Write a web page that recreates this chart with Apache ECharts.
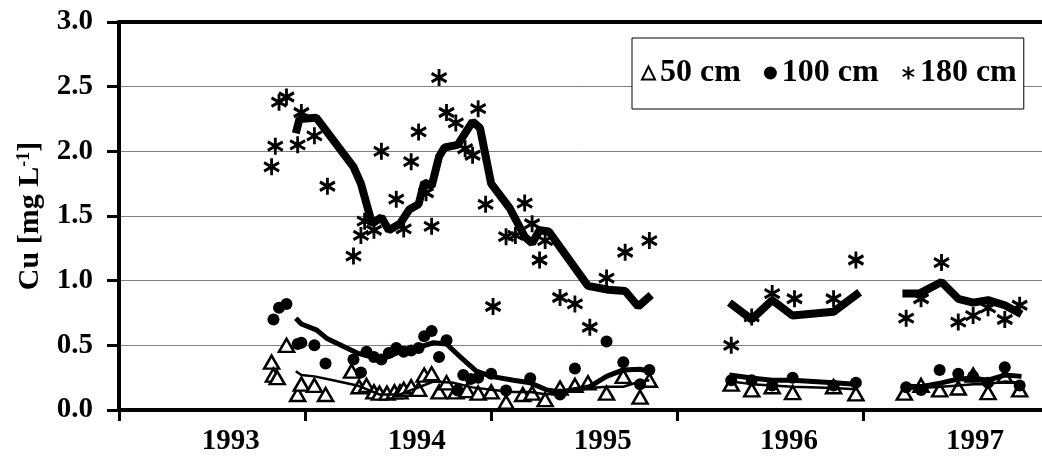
<!DOCTYPE html>
<html><head><meta charset="utf-8">
<script src="https://cdn.jsdelivr.net/npm/echarts@6/dist/echarts.min.js"></script>
<style>html,body{margin:0;padding:0;background:#fff}#c{width:1042px;height:460px}</style>
</head><body><div id="c"></div>
<script>
const FONT = '"Liberation Serif","Times New Roman",serif';
const yearTicks = [1993, 1994, 1995, 1996, 1997];
const yearLabelPos = [1993.6, 1994.6, 1995.6, 1996.6, 1997.6];

// 50 cm (triangles)
const t50 = [1993.82,1993.83,1993.85,1993.90,1993.96,1993.98,1994.05,1994.11,1994.25,1994.29,1994.33,1994.37,1994.40,1994.44,1994.48,1994.51,1994.53,1994.57,1994.61,1994.64,1994.68,1994.72,1994.76,1994.81,1994.87,1994.93,1995.00,1995.08,1995.17,1995.22,1995.29,1995.37,1995.45,1995.52,1995.62,1995.71,1995.80,1995.85,1996.29,1996.40,1996.51,1996.62,1996.84,1996.96,1997.22,1997.31,1997.41,1997.51,1997.59,1997.67,1997.76,1997.84];
const v50 = [0.37,0.27,0.25,0.50,0.12,0.20,0.19,0.12,0.30,0.18,0.19,0.14,0.13,0.13,0.14,0.14,0.16,0.18,0.16,0.27,0.28,0.14,0.21,0.14,0.15,0.13,0.14,0.06,0.12,0.13,0.08,0.17,0.19,0.21,0.13,0.26,0.10,0.23,0.20,0.155,0.18,0.135,0.18,0.125,0.13,0.19,0.155,0.17,0.27,0.135,0.26,0.155];

// 100 cm (dots)
const t100 = [1993.83,1993.86,1993.90,1993.96,1993.98,1994.05,1994.11,1994.26,1994.30,1994.33,1994.37,1994.41,1994.45,1994.49,1994.53,1994.57,1994.61,1994.64,1994.68,1994.72,1994.76,1994.82,1994.85,1994.89,1994.93,1995.00,1995.08,1995.21,1995.37,1995.45,1995.62,1995.71,1995.80,1995.85,1996.29,1996.40,1996.51,1996.62,1996.84,1996.96,1997.23,1997.31,1997.41,1997.51,1997.59,1997.67,1997.76,1997.84];
const v100 = [0.70,0.79,0.82,0.51,0.52,0.50,0.36,0.39,0.29,0.45,0.41,0.39,0.44,0.48,0.45,0.46,0.48,0.57,0.61,0.41,0.54,0.15,0.27,0.24,0.25,0.28,0.15,0.245,0.12,0.32,0.53,0.37,0.20,0.31,0.23,0.23,0.19,0.25,0.19,0.21,0.175,0.155,0.31,0.28,0.26,0.21,0.33,0.19];

// 180 cm (stars)
const t180 = [1993.82,1993.84,1993.86,1993.90,1993.96,1993.98,1994.05,1994.12,1994.26,1994.30,1994.32,1994.37,1994.41,1994.49,1994.53,1994.57,1994.61,1994.65,1994.68,1994.72,1994.76,1994.81,1994.86,1994.90,1994.93,1994.97,1995.01,1995.08,1995.13,1995.18,1995.22,1995.26,1995.29,1995.37,1995.45,1995.53,1995.62,1995.72,1995.85,1996.29,1996.40,1996.51,1996.63,1996.84,1996.96,1997.23,1997.31,1997.42,1997.51,1997.59,1997.67,1997.76,1997.84];
const v180 = [1.88,2.04,2.38,2.42,2.05,2.30,2.12,1.73,1.19,1.35,1.46,1.39,2.00,1.63,1.40,1.92,2.15,1.68,1.42,2.57,2.30,2.22,2.02,1.97,2.33,1.59,0.80,1.34,1.35,1.60,1.44,1.16,1.31,0.87,0.82,0.64,1.02,1.22,1.31,0.50,0.72,0.90,0.86,0.86,1.16,0.71,0.86,1.14,0.68,0.73,0.79,0.70,0.81];

// moving-average lines (null = gap)
const tMa50 = [1993.95,1993.98,1994.05,1994.15,1994.28,1994.40,1994.51,1994.60,1994.69,1994.80,1994.90,1995.01,1995.12,1995.21,1995.30,1995.37,1995.46,1995.53,1995.62,1995.71,1995.80,1995.85,1996.10,1996.29,1996.40,1996.51,1996.62,1996.84,1996.96,1997.10,1997.21,1997.31,1997.42,1997.51,1997.59,1997.67,1997.76,1997.85];
const vMa50 = [0.30,0.27,0.26,0.23,0.19,0.12,0.12,0.17,0.22,0.21,0.175,0.155,0.14,0.14,0.12,0.14,0.155,0.17,0.18,0.18,0.22,0.23,null,0.22,0.20,0.19,0.18,0.17,0.16,null,0.16,0.17,0.18,0.19,0.20,0.20,0.22,0.21];

const tMa100 = [1993.95,1993.98,1994.06,1994.12,1994.28,1994.41,1994.51,1994.60,1994.69,1994.76,1994.85,1994.92,1995.00,1995.12,1995.21,1995.30,1995.37,1995.46,1995.53,1995.62,1995.71,1995.80,1995.85,1996.10,1996.28,1996.41,1996.51,1996.62,1996.84,1996.96,1997.10,1997.21,1997.31,1997.42,1997.51,1997.59,1997.67,1997.76,1997.85];
const vMa100 = [0.71,0.665,0.62,0.55,0.44,0.39,0.45,0.48,0.52,0.51,0.39,0.30,0.26,0.23,0.21,0.155,0.14,0.16,0.18,0.26,0.31,0.315,0.30,null,0.27,0.245,0.23,0.23,0.21,0.20,null,0.185,0.18,0.21,0.24,0.245,0.23,0.27,0.26];

const tMa180 = [1993.95,1993.97,1994.06,1994.26,1994.30,1994.36,1994.41,1994.45,1994.51,1994.56,1994.61,1994.64,1994.68,1994.72,1994.75,1994.82,1994.90,1994.94,1995.00,1995.10,1995.18,1995.22,1995.26,1995.31,1995.37,1995.52,1995.63,1995.72,1995.79,1995.86,1996.10,1996.28,1996.40,1996.51,1996.62,1996.84,1996.98,1997.10,1997.21,1997.30,1997.42,1997.51,1997.59,1997.67,1997.76,1997.85];
const vMa180 = [2.14,2.25,2.26,1.88,1.75,1.44,1.49,1.39,1.44,1.55,1.59,1.76,1.73,1.96,2.03,2.05,2.23,2.18,1.75,1.56,1.34,1.29,1.39,1.38,1.26,0.96,0.93,0.92,0.80,0.89,null,0.83,0.70,0.85,0.73,0.76,0.91,null,0.90,0.90,0.99,0.86,0.83,0.85,0.81,0.74];

const STAR = 'path://M7,0L7,16M0,4L14,12M0,12L14,4';
const zip = (a, b) => a.map((t, i) => [t, b[i]]);

const chart = echarts.init(document.getElementById('c'), null, {renderer: 'canvas'});
const txt = {fontFamily: FONT, fontWeight: 'bold', color: '#000'};

chart.setOption({
  animation: false,
  backgroundColor: '#fff',
  grid: {left: 119, right: 0, top: 22, bottom: 50, containLabel: false},
  legend: {
    left: 632, top: 38, padding: [19, 7, 20, 9], itemGap: 23,
    itemWidth: 13, itemHeight: 13,
    borderColor: '#000', borderWidth: 1, backgroundColor: '#fff',
    textStyle: Object.assign({fontSize: 32}, txt),
    data: [
      {name: '50 cm', icon: 'triangle', itemStyle: {color: '#fff', borderColor: '#000', borderWidth: 2, opacity: 1}},
      {name: '100 cm', icon: 'circle', itemStyle: {color: '#000', borderWidth: 0, opacity: 1}},
      {name: '180 cm', icon: STAR, itemStyle: {color: 'transparent', borderColor: '#000', borderWidth: 2, opacity: 1}}
    ]
  },
  xAxis: [{
    type: 'value', min: 1993, max: 1997.96, position: 'bottom',
    axisLine: {onZero: false, lineStyle: {color: '#000', width: 4}},
    axisTick: {show: true, inside: false, length: 11, customValues: yearTicks, lineStyle: {color: '#000', width: 3}},
    axisLabel: Object.assign({fontSize: 29, margin: 17, customValues: yearLabelPos,
      formatter: v => String(Math.floor(v + 1e-6))}, txt),
    splitLine: {show: false}
  }, {
    type: 'value', min: 1993, max: 1997.96, position: 'top',
    axisLine: {onZero: false, lineStyle: {color: '#000', width: 4}},
    axisTick: {show: false}, axisLabel: {show: false}, splitLine: {show: false}
  }],
  yAxis: {
    type: 'value', min: 0, max: 3, interval: 0.5,
    name: '{a|Cu [mg L}{s|-1}{a|]}', nameLocation: 'middle', nameGap: 73, nameRotate: 90,
    nameTextStyle: Object.assign({fontSize: 30, rich: {
      a: Object.assign({fontSize: 30}, txt),
      s: Object.assign({fontSize: 18, padding: [0, 0, 13, 0]}, txt)
    }}, txt),
    axisLine: {onZero: false, lineStyle: {color: '#000', width: 4}},
    axisTick: {show: true, inside: false, length: 12, lineStyle: {color: '#000', width: 3}},
    axisLabel: Object.assign({fontSize: 29, margin: 26, formatter: v => v.toFixed(1)}, txt),
    splitLine: {show: true, lineStyle: {color: '#808080', width: 1}}
  },
  series: [
    {name: '50 cm', type: 'scatter', symbol: 'triangle', symbolSize: [15, 13], z: 3,
     itemStyle: {color: '#fff', borderColor: '#000', borderWidth: 2.5, opacity: 1}, data: zip(t50, v50)},
    {name: '100 cm', type: 'scatter', symbol: 'circle', symbolSize: 12, z: 3,
     itemStyle: {color: '#000', opacity: 1}, data: zip(t100, v100)},
    {name: '180 cm', type: 'scatter', symbol: STAR, symbolSize: [15, 17], z: 3,
     itemStyle: {color: 'transparent', borderColor: '#000', borderWidth: 3, opacity: 1}, data: zip(t180, v180)},
    {name: 'MA 50', type: 'line', symbol: 'none', connectNulls: false, z: 4,
     lineStyle: {color: '#000', width: 2.5}, data: zip(tMa50, vMa50)},
    {name: 'MA 100', type: 'line', symbol: 'none', connectNulls: false, z: 4,
     lineStyle: {color: '#000', width: 5}, data: zip(tMa100, vMa100)},
    {name: 'MA 180', type: 'line', symbol: 'none', connectNulls: false, z: 4,
     lineStyle: {color: '#000', width: 8}, data: zip(tMa180, vMa180)}
  ]
});
</script>
</body></html>
